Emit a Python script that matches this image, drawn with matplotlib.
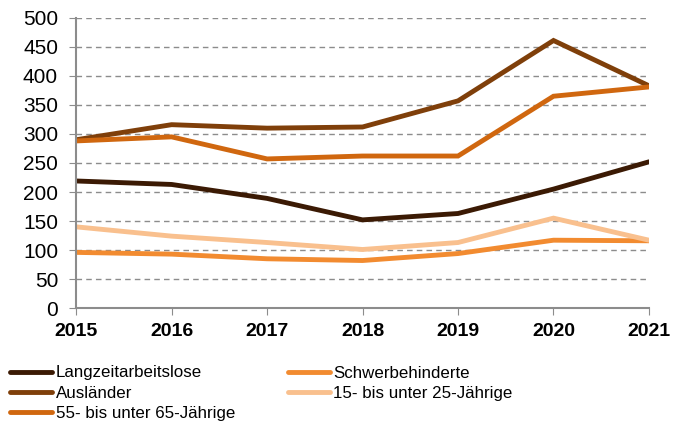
import matplotlib
matplotlib.use("Agg")
import matplotlib.pyplot as plt

plt.rcParams['font.family'] = ['Liberation Sans', 'DejaVu Sans']

# Daten
jahre = [2015, 2016, 2017, 2018, 2019, 2020, 2021]
langzeit = [219, 213, 189, 152, 163, 205, 252]
auslaender = [290, 316, 310, 312, 357, 461, 383]
aeltere = [288, 295, 257, 262, 262, 365, 381]
schwerbeh = [96, 93, 85, 82, 94, 117, 116]
junge = [140, 124, 113, 101, 113, 155, 117]

reihen = [
    ("Langzeitarbeitslose", langzeit, "#3b1a04"),
    ("Ausländer", auslaender, "#7f3f0a"),
    ("55- bis unter 65-Jährige", aeltere, "#d0670f"),
    ("Schwerbehinderte", schwerbeh, "#f28b30"),
    ("15- bis unter 25-Jährige", junge, "#f9c08e"),
]

fig = plt.figure(figsize=(6.86, 4.25), dpi=100)
ax = fig.add_axes([0.111, 0.275, 0.835, 0.683])

for name, werte, farbe in reihen:
    ax.plot(jahre, werte, color=farbe, linewidth=3.5, label=name,
            solid_capstyle='round', solid_joinstyle='miter')

ax.set_xlim(2015, 2021)
ax.set_ylim(0, 500)
ax.set_yticks(range(0, 501, 50))
ax.set_xticks(jahre)
ax.set_xticklabels([str(j) for j in jahre], fontweight='bold', fontsize=14)
ax.tick_params(axis='y', labelsize=15, length=5, color='#8c8c8c', pad=8)
ax.tick_params(axis='x', length=5, color='#8c8c8c', pad=6)

for y in range(50, 501, 50):
    ax.axhline(y, color='#8c8c8c', linestyle=(0, (4, 3)), linewidth=1, zorder=0)

for s in ['top', 'right']:
    ax.spines[s].set_visible(False)
for s in ['left', 'bottom']:
    ax.spines[s].set_color('#8c8c8c')
    ax.spines[s].set_linewidth(1.5)

fig.legend(loc='upper left', bbox_to_anchor=(0.0146, 0.14),
           ncol=2, frameon=False, fontsize=12.2, handlelength=2.5,
           handletextpad=0.2, labelspacing=0.32, columnspacing=3.1,
           borderaxespad=0, borderpad=0)

fig.savefig("out.png", dpi=100)
